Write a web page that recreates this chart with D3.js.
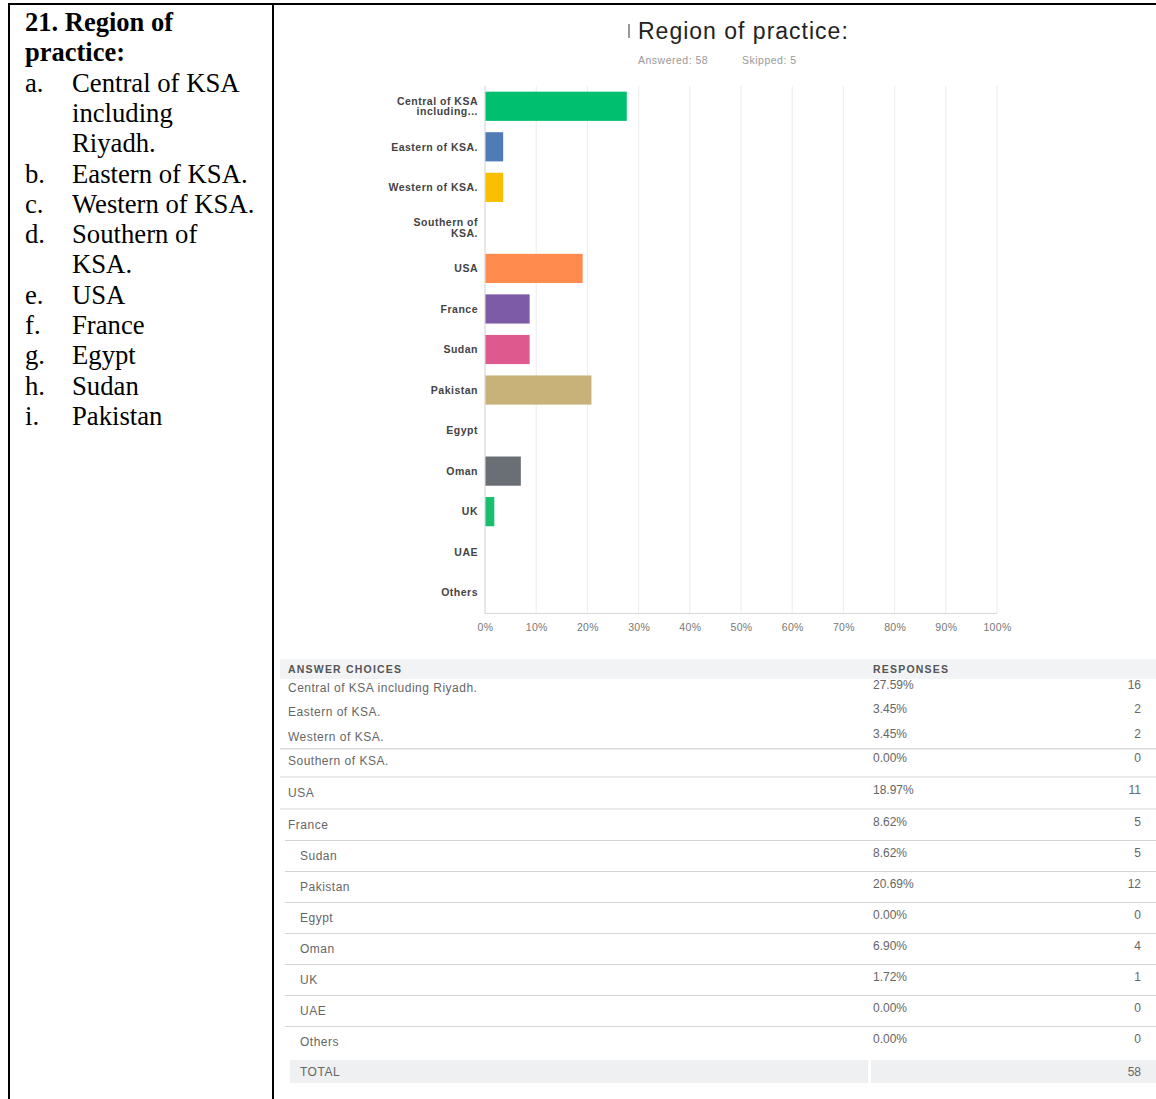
<!DOCTYPE html>
<html><head><meta charset="utf-8">
<script src="https://cdn.jsdelivr.net/npm/d3@7"></script>
<style>
body{margin:0;background:#fff;}
svg{display:block;}
</style></head>
<body>
<svg id="c" width="1156" height="1099"></svg>
<script>
// ---- data ----
const heading = ["21. Region of", "practice:"];
const listMarks = ["a.", "", "", "b.", "c.", "d.", "", "e.", "f.", "g.", "h.", "i."];
const listLines = ["Central of KSA", "including", "Riyadh.", "Eastern of KSA.", "Western of KSA.", "Southern of", "KSA.", "USA", "France", "Egypt", "Sudan", "Pakistan"];

const title = "Region of practice:";
const answeredText = "Answered: 58";
const skippedText = "Skipped: 5";

const categories = ["Central of KSA including Riyadh.", "Eastern of KSA.", "Western of KSA.", "Southern of KSA.", "USA", "France", "Sudan", "Pakistan", "Egypt", "Oman", "UK", "UAE", "Others"];
const axisLabels = [["Central of KSA", "including..."], ["Eastern of KSA."], ["Western of KSA."], ["Southern of", "KSA."], ["USA"], ["France"], ["Sudan"], ["Pakistan"], ["Egypt"], ["Oman"], ["UK"], ["UAE"], ["Others"]];
const percents = [27.59, 3.45, 3.45, 0.00, 18.97, 8.62, 8.62, 20.69, 0.00, 6.90, 1.72, 0.00, 0.00];
const counts = [16, 2, 2, 0, 11, 5, 5, 12, 0, 4, 1, 0, 0];
const total = 58;
const barColors = ["#00bf6f", "#507cb6", "#f9be00", "#6bc8cd", "#ff8b4f", "#7d5ba6", "#de5a8e", "#c8b27a", "#9da59a", "#6a6e75", "#19bf6c", "#507cb6", "#f9be00"];
const xTicks = [0, 10, 20, 30, 40, 50, 60, 70, 80, 90, 100];
const tableHeaders = ["ANSWER CHOICES", "RESPONSES"];

// ---- drawing ----
const svg = d3.select("#c");

// document frame
svg.append("line").attr("x1", 8).attr("x2", 1156).attr("y1", 4).attr("y2", 4).attr("stroke", "#000").attr("stroke-width", 2);
svg.append("line").attr("x1", 9).attr("x2", 9).attr("y1", 3).attr("y2", 1099).attr("stroke", "#000").attr("stroke-width", 2);
svg.append("line").attr("x1", 273).attr("x2", 273).attr("y1", 3).attr("y2", 1099).attr("stroke", "#000").attr("stroke-width", 2);

// left column text
const lineY = i => 31 + i * 30.3;
heading.forEach((t, i) => {
  svg.append("text").attr("x", 25).attr("y", lineY(i)).text(t)
    .attr("font-family", "Liberation Serif").attr("font-weight", "bold").attr("font-size", 26.5).attr("fill", "#000");
});
listLines.forEach((t, i) => {
  const y = lineY(i + 2);
  if (listMarks[i]) svg.append("text").attr("x", 25).attr("y", y).text(listMarks[i])
    .attr("font-family", "Liberation Serif").attr("font-size", 26.7).attr("fill", "#000");
  svg.append("text").attr("x", 72).attr("y", y).text(t)
    .attr("font-family", "Liberation Serif").attr("font-size", 26.7).attr("fill", "#000");
});

// title
svg.append("line").attr("x1", 629).attr("x2", 629).attr("y1", 24).attr("y2", 38).attr("stroke", "#777").attr("stroke-width", 1.5);
svg.append("text").attr("x", 638).attr("y", 39).text(title)
  .attr("font-family", "Liberation Sans").attr("font-size", 23).attr("letter-spacing", 1).attr("fill", "#222");
svg.append("text").attr("x", 638).attr("y", 64).text(answeredText)
  .attr("font-family", "Liberation Sans").attr("font-size", 10.5).attr("letter-spacing", 0.5).attr("fill", "#999");
svg.append("text").attr("x", 742).attr("y", 64).text(skippedText)
  .attr("font-family", "Liberation Sans").attr("font-size", 10.5).attr("letter-spacing", 0.5).attr("fill", "#999");

// chart
const x = d3.scaleLinear().domain([0, 100]).range([485, 997]);
const y = d3.scaleBand().domain(categories).range([86, 613]).paddingInner(0.28).paddingOuter(0.14);

const g = svg.append("g");
// gridlines
g.selectAll("line.grid").data(xTicks.slice(1)).join("line").attr("class", "grid")
  .attr("x1", d => x(d)).attr("x2", d => x(d)).attr("y1", 86).attr("y2", 613)
  .attr("stroke", "#ececec").attr("stroke-width", 1);
// frame of plot
g.append("line").attr("x1", x(0)).attr("x2", x(100)).attr("y1", 613.5).attr("y2", 613.5).attr("stroke", "#d8d8d8");
g.append("line").attr("x1", x(0)).attr("x2", x(0)).attr("y1", 86).attr("y2", 614).attr("stroke", "#cfcfcf");

// bars
g.selectAll("rect.bar").data(categories).join("rect").attr("class", "bar")
  .attr("x", x(0) + 0.5).attr("y", d => y(d))
  .attr("width", (d, i) => Math.max(0, x(percents[i]) - x(0)))
  .attr("height", y.bandwidth())
  .attr("fill", (d, i) => barColors[i]);

// y labels
categories.forEach((c, i) => {
  const lines = axisLabels[i];
  const cy = y(c) + y.bandwidth() / 2;
  const t = g.append("text").attr("text-anchor", "end")
    .attr("font-family", "Liberation Sans").attr("font-weight", "bold").attr("font-size", 10.5)
    .attr("letter-spacing", 0.5).attr("fill", "#444");
  lines.forEach((l, k) => {
    t.append("tspan").attr("x", 478).attr("y", cy + 3.7 + (k - (lines.length - 1) / 2) * 10.5).text(l);
  });
});

// x axis labels
const xAxis = d3.axisBottom(x).tickValues(xTicks).tickFormat(d => d + "%").tickSize(0).tickPadding(11);
const ax = svg.append("g").attr("transform", "translate(0,613)").call(xAxis);
ax.select(".domain").remove();
ax.selectAll("text").attr("font-family", "Liberation Sans").attr("font-size", 10.5).attr("fill", "#777").attr("letter-spacing", 0.3);

// table
const rowY = d3.scaleLinear().domain([0, 3, 5, 12]).range([692, 765, 829, 1046]);
const labX = i => (i >= 6 ? 300 : 288);

svg.append("rect").attr("x", 280).attr("y", 659).attr("width", 876).attr("height", 20).attr("fill", "#f2f3f4");
svg.append("text").attr("x", 288).attr("y", 673).text(tableHeaders[0])
  .attr("font-family", "Liberation Sans").attr("font-weight", "bold").attr("font-size", 10.5).attr("letter-spacing", 1.2).attr("fill", "#555");
svg.append("text").attr("x", 873).attr("y", 673).text(tableHeaders[1])
  .attr("font-family", "Liberation Sans").attr("font-weight", "bold").attr("font-size", 10.5).attr("letter-spacing", 1.2).attr("fill", "#555");

// separator lines
const sepIdx = d3.range(2, 12);
svg.selectAll("line.sep").data(sepIdx).join("line").attr("class", "sep")
  .attr("x1", d => (d >= 5 ? 285 : 280)).attr("x2", 1156)
  .attr("y1", d => (rowY(d) + rowY(d + 1)) / 2 - 4)
  .attr("y2", d => (rowY(d) + rowY(d + 1)) / 2 - 4)
  .attr("stroke", "#d5d5d5").attr("stroke-width", 1.2);

categories.forEach((c, i) => {
  const yy = rowY(i);
  svg.append("text").attr("x", labX(i)).attr("y", yy).text(c)
    .attr("font-family", "Liberation Sans").attr("font-size", 12).attr("letter-spacing", 0.5).attr("fill", "#666");
  svg.append("text").attr("x", 873).attr("y", yy - 3).text(percents[i].toFixed(2) + "%")
    .attr("font-family", "Liberation Sans").attr("font-size", 12).attr("fill", "#666");
  svg.append("text").attr("x", 1141).attr("y", yy - 3).attr("text-anchor", "end").text(counts[i])
    .attr("font-family", "Liberation Sans").attr("font-size", 12).attr("fill", "#666");
});

// total row
svg.append("rect").attr("x", 290).attr("y", 1060).attr("width", 578).attr("height", 23).attr("fill", "#eff0f1");
svg.append("rect").attr("x", 871).attr("y", 1060).attr("width", 285).attr("height", 23).attr("fill", "#eff0f1");
svg.append("text").attr("x", 300).attr("y", 1076).text("TOTAL")
  .attr("font-family", "Liberation Sans").attr("font-size", 12).attr("letter-spacing", 0.5).attr("fill", "#666");
svg.append("text").attr("x", 1141).attr("y", 1076).attr("text-anchor", "end").text(total)
  .attr("font-family", "Liberation Sans").attr("font-size", 12).attr("fill", "#666");
</script>
</body></html>
